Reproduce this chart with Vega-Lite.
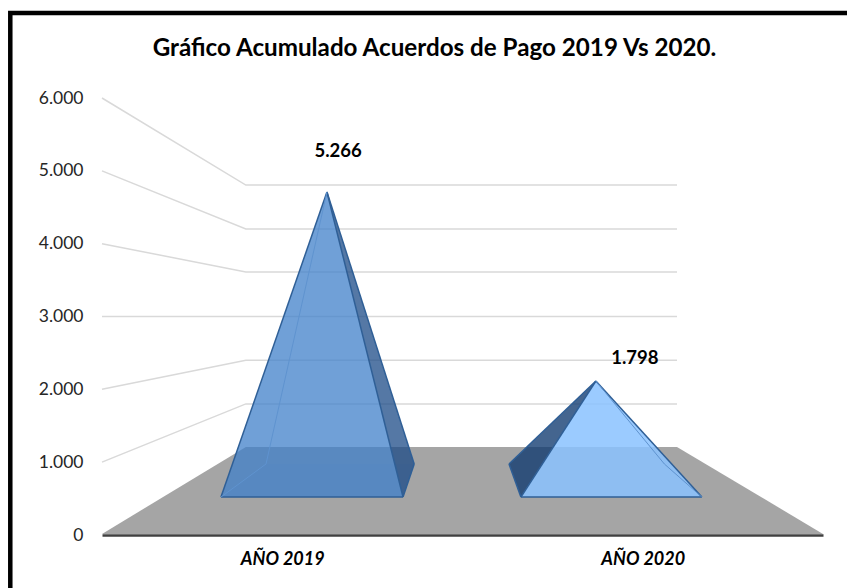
{
  "$schema": "https://vega.github.io/schema/vega-lite/v6.json",
  "width": 721,
  "height": 437,
  "autosize": {"type": "none"},
  "padding": {"left": 102, "top": 98, "right": 24, "bottom": 53},
  "background": "white",
  "config": {
    "view": {"stroke": null},
    "locale": {"number": {"decimal": ",", "thousands": ".", "grouping": [3], "currency": ["$", ""]}},
    "font": "Lato"
  },
  "title": {
    "text": "Gráfico Acumulado  Acuerdos de Pago 2019 Vs 2020.",
    "font": "Lato", "fontSize": 24.2, "fontWeight": "bold", "color": "black",
    "anchor": "middle", "dx": -28, "offset": -50
  },
  "resolve": {"scale": {"color": "independent"}},
  "datasets": {
    "marco": [{"x0": -0.2544, "x1": 2.103, "y0": -892, "y1": 7167}],
    "piso": [
      {"x": 0, "techo": 15, "base": 15},
      {"x": 0.399, "techo": 1208, "base": 15},
      {"x": 1.595, "techo": 1208, "base": 15},
      {"x": 2, "techo": 15, "base": 15}
    ],
    "rejilla": [
      {"valor": 6000, "x": 0, "y": 6000}, {"valor": 6000, "x": 0.399, "y": 4805}, {"valor": 6000, "x": 1.595, "y": 4805},
      {"valor": 5000, "x": 0, "y": 5000}, {"valor": 5000, "x": 0.399, "y": 4201}, {"valor": 5000, "x": 1.595, "y": 4201},
      {"valor": 4000, "x": 0, "y": 4000}, {"valor": 4000, "x": 0.399, "y": 3611}, {"valor": 4000, "x": 1.595, "y": 3611},
      {"valor": 3000, "x": 0, "y": 3000}, {"valor": 3000, "x": 0.399, "y": 3000}, {"valor": 3000, "x": 1.595, "y": 3000},
      {"valor": 2000, "x": 0, "y": 2000}, {"valor": 2000, "x": 0.399, "y": 2400}, {"valor": 2000, "x": 1.595, "y": 2400},
      {"valor": 1000, "x": 0, "y": 1000}, {"valor": 1000, "x": 0.399, "y": 1800}, {"valor": 1000, "x": 1.595, "y": 1800}
    ],
    "caras": [
      {"cara": "a1 base 2019", "x": 0.33, "techo": 521, "base": 521},
      {"cara": "a1 base 2019", "x": 0.455, "techo": 975, "base": 521},
      {"cara": "a1 base 2019", "x": 0.835, "techo": 975, "base": 521},
      {"cara": "a1 base 2019", "x": 0.866, "techo": 975, "base": 975},
      {"cara": "a2 lado 2019", "x": 0.624, "techo": 4710, "base": 4710},
      {"cara": "a2 lado 2019", "x": 0.835, "techo": 1445, "base": 521},
      {"cara": "a2 lado 2019", "x": 0.866, "techo": 975, "base": 975},
      {"cara": "a3 frente 2019", "x": 0.33, "techo": 521, "base": 521},
      {"cara": "a3 frente 2019", "x": 0.624, "techo": 4710, "base": 521},
      {"cara": "a3 frente 2019", "x": 0.835, "techo": 521, "base": 521},
      {"cara": "b1 lado 2020", "x": 1.129, "techo": 975, "base": 975},
      {"cara": "b1 lado 2020", "x": 1.162, "techo": 1130, "base": 521},
      {"cara": "b1 lado 2020", "x": 1.37, "techo": 2114, "base": 2114},
      {"cara": "b2 frente 2020", "x": 1.162, "techo": 521, "base": 521},
      {"cara": "b2 frente 2020", "x": 1.37, "techo": 2114, "base": 521},
      {"cara": "b2 frente 2020", "x": 1.664, "techo": 521, "base": 521}
    ],
    "aristas": [
      {"arista": "f1", "tipo": "frente", "x": 0.33, "y": 521}, {"arista": "f1", "tipo": "frente", "x": 0.624, "y": 4710},
      {"arista": "f2", "tipo": "frente", "x": 0.624, "y": 4710}, {"arista": "f2", "tipo": "frente", "x": 0.835, "y": 521},
      {"arista": "f3", "tipo": "frente", "x": 0.33, "y": 521}, {"arista": "f3", "tipo": "frente", "x": 0.835, "y": 521},
      {"arista": "f4", "tipo": "frente", "x": 0.624, "y": 4710}, {"arista": "f4", "tipo": "frente", "x": 0.866, "y": 975},
      {"arista": "f5", "tipo": "frente", "x": 0.835, "y": 521}, {"arista": "f5", "tipo": "frente", "x": 0.866, "y": 975},
      {"arista": "t1", "tipo": "fondo", "x": 0.33, "y": 521}, {"arista": "t1", "tipo": "fondo", "x": 0.455, "y": 975},
      {"arista": "t2", "tipo": "fondo", "x": 0.455, "y": 975}, {"arista": "t2", "tipo": "fondo", "x": 0.624, "y": 4710},
      {"arista": "g1", "tipo": "frente", "x": 1.162, "y": 521}, {"arista": "g1", "tipo": "frente", "x": 1.37, "y": 2114},
      {"arista": "g2", "tipo": "frente", "x": 1.37, "y": 2114}, {"arista": "g2", "tipo": "frente", "x": 1.664, "y": 521},
      {"arista": "g3", "tipo": "frente", "x": 1.162, "y": 521}, {"arista": "g3", "tipo": "frente", "x": 1.664, "y": 521},
      {"arista": "g4", "tipo": "frente", "x": 1.129, "y": 975}, {"arista": "g4", "tipo": "frente", "x": 1.37, "y": 2114},
      {"arista": "g5", "tipo": "frente", "x": 1.129, "y": 975}, {"arista": "g5", "tipo": "frente", "x": 1.162, "y": 521},
      {"arista": "u1", "tipo": "fondo", "x": 1.37, "y": 2114}, {"arista": "u1", "tipo": "fondo", "x": 1.56, "y": 975},
      {"arista": "u2", "tipo": "fondo", "x": 1.56, "y": 975}, {"arista": "u2", "tipo": "fondo", "x": 1.664, "y": 521}
    ],
    "etiquetas": [
      {"anio": "AÑO 2019", "valor": 5266, "x": 0.655, "y": 5272},
      {"anio": "AÑO 2020", "valor": 1798, "x": 1.478, "y": 2430}
    ]
  },
  "layer": [
    {
      "data": {"name": "piso"},
      "mark": {"type": "area", "color": "#a5a5a5", "clip": false},
      "encoding": {
        "x": {
          "field": "x", "type": "quantitative",
          "scale": {"domain": [0, 2], "nice": false, "zero": false},
          "axis": {
            "title": null, "values": [0.5, 1.5], "grid": false, "ticks": false,
            "domainColor": "#404040", "domainWidth": 2.5,
            "labelExpr": "datum.value < 1 ? 'AÑO 2019' : 'AÑO 2020'",
            "labelFont": "Lato", "labelFontSize": 18, "labelFontWeight": "bold", "labelFontStyle": "italic",
            "labelColor": "black", "labelPadding": 15, "labelFlush": false
          }
        },
        "y": {
          "field": "techo", "type": "quantitative",
          "scale": {"domain": [0, 6000], "nice": false},
          "axis": {
            "title": null, "values": [0, 1000, 2000, 3000, 4000, 5000, 6000], "format": ",.0f",
            "grid": false, "ticks": false, "domain": false,
            "labelFont": "Lato", "labelFontSize": 17.5, "labelColor": "#262626", "labelPadding": 19
          }
        },
        "y2": {"field": "base"}
      }
    },
    {
      "data": {"name": "rejilla"},
      "mark": {"type": "line", "color": "#d9d9d9", "strokeWidth": 1.5},
      "encoding": {
        "x": {"field": "x", "type": "quantitative"},
        "y": {"field": "y", "type": "quantitative"},
        "detail": {"field": "valor"}
      }
    },
    {
      "data": {"name": "caras"},
      "mark": {"type": "area"},
      "encoding": {
        "x": {"field": "x", "type": "quantitative"},
        "y": {"field": "techo", "type": "quantitative"},
        "y2": {"field": "base"},
        "color": {
          "field": "cara", "type": "nominal", "legend": null,
          "scale": {
            "domain": ["a1 base 2019", "a2 lado 2019", "a3 frente 2019", "b1 lado 2020", "b2 frente 2020"],
            "range": ["rgba(64,128,201,0.1)", "rgba(28,75,135,0.75)", "rgba(64,128,201,0.75)", "rgba(15,58,112,0.78)", "rgba(138,194,255,0.85)"]
          }
        }
      }
    },
    {
      "data": {"name": "aristas"},
      "mark": {"type": "line"},
      "encoding": {
        "x": {"field": "x", "type": "quantitative"},
        "y": {"field": "y", "type": "quantitative"},
        "detail": {"field": "arista"},
        "color": {
          "field": "tipo", "type": "nominal", "legend": null,
          "scale": {"domain": ["frente", "fondo"], "range": ["#2f5f96", "#5f93cf"]}
        },
        "strokeWidth": {
          "field": "tipo", "type": "nominal", "legend": null,
          "scale": {"domain": ["frente", "fondo"], "range": [1.5, 1]}
        }
      }
    },
    {
      "data": {"name": "etiquetas"},
      "mark": {"type": "text", "font": "Lato", "fontSize": 18.5, "fontWeight": "bold", "color": "black"},
      "encoding": {
        "x": {"field": "x", "type": "quantitative"},
        "y": {"field": "y", "type": "quantitative"},
        "text": {"field": "valor", "type": "quantitative", "format": ",.0f"}
      }
    },
    {
      "data": {"name": "marco"},
      "mark": {"type": "rect", "fill": null, "fillOpacity": 0, "stroke": "black", "strokeWidth": 4.5, "clip": false},
      "encoding": {
        "x": {"field": "x0", "type": "quantitative"},
        "x2": {"field": "x1"},
        "y": {"field": "y0", "type": "quantitative"},
        "y2": {"field": "y1"}
      }
    }
  ]
}
